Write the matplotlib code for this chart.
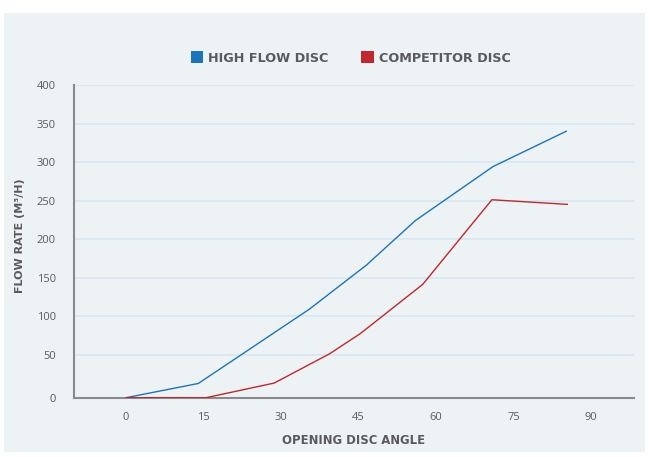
import numpy as np
import matplotlib
matplotlib.use('Agg')
import matplotlib.pyplot as plt
from matplotlib.patches import Patch, Rectangle

# Data
high_flow_angle = [0, 14, 35.5, 46.5, 56, 71, 85.2]
high_flow_rate = [0, 16.5, 109, 166, 224, 294, 340]
competitor_angle = [0, 15.5, 28.7, 39.4, 45.3, 57.4, 70.8, 85.4]
competitor_rate = [0, 0, 17, 51, 77, 141, 251, 245]

x_ticks = [0, 15, 30, 45, 60, 75, 90]
y_ticks = [0, 50, 100, 150, 200, 250, 300, 350, 400]

BLUE = '#1b75bc'
RED = '#c1272d'
PANEL = '#edf2f5'
GRID = '#d6e7f3'
SPINE = '#8a8a8a'
TEXT = '#5a5a5a'

plt.rcParams['font.family'] = ['Open Sans', 'DejaVu Sans']
LABEL_FONT = ['DejaVu Sans']

# the first band (0-50) is drawn a bit taller than the others in the original
K = 43.0 / 38.37
OFF = 50 * K - 50


def fwd(y):
    y = np.asarray(y, dtype=float)
    return np.where(y < 50, y * K, y + OFF)


def inv(t):
    t = np.asarray(t, dtype=float)
    return np.where(t < 50 * K, t / K, t - OFF)


W, H = 649, 457
fig = plt.figure(figsize=(W / 100, H / 100), dpi=100, facecolor='white')
fig.patches.append(Rectangle((4 / W, 1 - 452 / H), 641 / W, 439 / H,
                             transform=fig.transFigure, facecolor=PANEL,
                             edgecolor='none', zorder=-10))

ax = fig.add_axes([74 / W, 1 - 397.7 / H, 560 / W, 312.7 / H])
ax.set_facecolor(PANEL)
ax.set_yscale('function', functions=(fwd, inv))

ax.plot(high_flow_angle, high_flow_rate, color=BLUE, lw=1.0, zorder=3)
ax.plot(competitor_angle, competitor_rate, color=RED, lw=1.0, zorder=3)

ax.set_xlim(-10.06, 98.3)
ax.set_ylim(0, 400)
ax.set_xticks(x_ticks)
ax.set_yticks(y_ticks)
ax.yaxis.set_major_formatter(plt.FuncFormatter(lambda v, p: f'{v:g}'))
ax.yaxis.set_minor_locator(plt.NullLocator())
ax.tick_params(length=0, labelsize=8, colors=TEXT)
ax.tick_params(axis='x', pad=10)
ax.tick_params(axis='y', pad=13)

ax.grid(axis='y', color=GRID, lw=1.2)
ax.set_axisbelow(True)
for s in ['top', 'right']:
    ax.spines[s].set_visible(False)
for s in ['left', 'bottom']:
    ax.spines[s].set_color(SPINE)
    ax.spines[s].set_linewidth(1.5)

ax.set_xlabel('OPENING DISC ANGLE', fontsize=8.4, fontweight='bold',
              color=TEXT, family=LABEL_FONT, va='center')
ax.set_ylabel('FLOW RATE (M³/H)', fontsize=8.0, fontweight='bold',
              color=TEXT, family=LABEL_FONT, va='center')
ax.xaxis.set_label_coords(0.5, (397.7 - 441) / 312.7)
ax.yaxis.set_label_coords((20 - 74) / 560, (397.7 - 235.5) / 312.7)

handles = [Patch(facecolor=BLUE, label='HIGH FLOW DISC'),
           Patch(facecolor=RED, label='COMPETITOR DISC')]
leg = fig.legend(handles=handles, loc='center', bbox_to_anchor=(350.5 / W, 1 - 58 / H),
                 ncol=2, frameon=False, handlelength=1.0, handleheight=1.0,
                 handletextpad=0.4, columnspacing=2.5,
                 prop={'size': 9.2, 'weight': 'bold', 'family': LABEL_FONT})
for t in leg.get_texts():
    t.set_color(TEXT)

fig.savefig('out.png', dpi=100, facecolor='white')
